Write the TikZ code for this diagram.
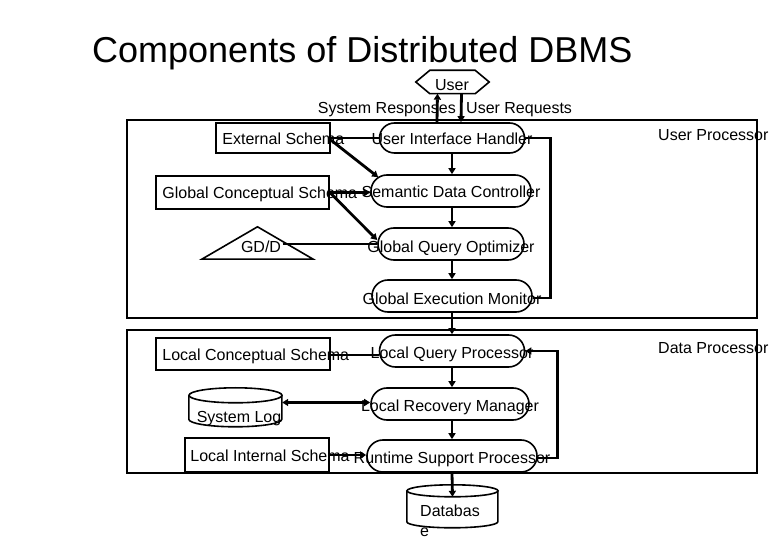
\documentclass[tikz,border=0pt]{standalone}
\usepackage{fontspec}
\setmainfont{Liberation Sans}
\usetikzlibrary{arrows.meta,calc}
\begin{document}
\begin{tikzpicture}[x=1pt,y=-1pt,
  lbl/.style={font=\fontsize{16}{19}\selectfont, inner sep=0pt, text height=11.5pt, text depth=0pt},
  proc/.style={draw, line width=1.6pt, rounded corners=15pt, inner sep=0pt},
  box/.style={draw, line width=1.6pt, inner sep=0pt},
  ghost/.style={inner sep=0pt},
  frame/.style={draw, line width=1.8pt, inner sep=0pt},
  outl/.style={line width=1.6pt},
  link/.style={line width=2.8pt},
  arr/.style={link, -{Triangle[length=6pt,width=7pt]}},
  darr/.style={link, {Triangle[length=6pt,width=7pt]}-{Triangle[length=6pt,width=7pt]}},
]
\useasboundingbox (0,0) rectangle (780,540);

% title
\node[font=\fontsize{36}{40}\selectfont, inner sep=0pt, anchor=base west] (title) at (92,63) {Components of Distributed DBMS};

% frames
\node[frame, anchor=north west, minimum width=630, minimum height=198] (upbox) at (126,119) {};
\node[frame, anchor=north west, minimum width=630, minimum height=143] (dnbox) at (126,329) {};
\node[lbl, anchor=west] (uptxt) at (658,135) {User Processor};
\node[lbl, anchor=west] (dntxt) at (658,348) {Data Processor};

% user hexagon
\node[ghost, minimum width=73, minimum height=23] (user) at (452.5,82) {};
\draw[outl] ([xshift=14pt]user.north west) -- ([xshift=-14pt]user.north east) -- (user.east)
  -- ([xshift=-14pt]user.south east) -- ([xshift=14pt]user.south west) -- (user.west) -- cycle;
\node[lbl] (usertxt) at (452,85) {User};
\node[lbl, anchor=east] (resp) at (456,108) {System Responses};
\node[lbl, anchor=west] (req) at (466,108) {User Requests};

% user processor shapes
\node[box, minimum width=114, minimum height=30] (es) at (273,138) {};
\node[lbl, anchor=west] (estxt) at ([xshift=7pt,yshift=-1pt]es.west) {External Schema};
\node[proc, minimum width=145, minimum height=30] (uih) at (452,138) {};
\node[lbl] (uihtxt) at ([yshift=-1pt]uih.center) {User Interface Handler};

\node[box, minimum width=173, minimum height=33] (gcs) at (242.5,192.5) {};
\node[lbl, anchor=west] (gcstxt) at ([xshift=7pt]gcs.west) {Global Conceptual Schema};
\node[proc, minimum width=160, minimum height=32, rounded corners=16pt] (sdc) at (451,191) {};
\node[lbl] (sdctxt) at ([yshift=-1pt]sdc.center) {Semantic Data Controller};

\node[ghost, minimum width=111, minimum height=32] (gdd) at (257.5,243) {};
\draw[outl] (gdd.south west) -- (gdd.north) -- (gdd.south east) -- cycle;
\node[lbl] (gddtxt) at (261,247) {GD/D};
\node[proc, minimum width=146, minimum height=32, rounded corners=16pt] (gqo) at (451,244) {};
\node[lbl] (gqotxt) at ([yshift=-3pt]gqo.center) {Global Query Optimizer};

\node[proc, minimum width=160, minimum height=32, rounded corners=16pt] (gem) at (452,296) {};
\node[lbl] (gemtxt) at ([yshift=-3pt]gem.center) {Global Execution Monitor};

% data processor shapes
\node[box, minimum width=174, minimum height=32] (lcs) at (243,354) {};
\node[lbl, anchor=west] (lcstxt) at ([xshift=7pt,yshift=-1pt]lcs.west) {Local Conceptual Schema};
\node[proc, minimum width=145, minimum height=32, rounded corners=16pt] (lqp) at (452,351) {};
\node[lbl] (lqptxt) at ([yshift=-2pt]lqp.center) {Local Query Processor};

\node[ghost, minimum width=93, minimum height=39] (sl) at (235.5,407.5) {};
\draw[outl] ([yshift=-7.5pt]sl.north) ellipse [x radius=46.5, y radius=7.5];
\draw[outl] (sl.north west) ++(0,7.5) -- ++(0,24) arc[start angle=180, end angle=0, x radius=46.5, y radius=7.5] -- ++(0,-24);
\node[lbl] (sltxt) at (239,417) {System Log};
\node[proc, minimum width=158, minimum height=32, rounded corners=16pt] (lrm) at (450,404) {};
\node[lbl] (lrmtxt) at ([yshift=-2pt]lrm.center) {Local Recovery Manager};

\node[box, minimum width=144, minimum height=34] (lis) at (257,455) {};
\node[lbl, anchor=west] (listxt) at ([xshift=6pt,yshift=-1pt]lis.west) {Local Internal Schema};
\node[proc, minimum width=170, minimum height=32, rounded corners=16pt] (rsp) at (452,456) {};
\node[lbl] (rsptxt) at ([yshift=-2pt]rsp.center) {Runtime Support Processor};

\node[ghost, minimum width=91, minimum height=43] (db) at (452.5,506.5) {};
\draw[outl] ([yshift=-6pt]db.north) ellipse [x radius=45.5, y radius=6];
\draw[outl] (db.north west) ++(0,6) -- ++(0,31) arc[start angle=180, end angle=0, x radius=45.5, y radius=6] -- ++(0,-31);
\node[font=\fontsize{16}{20}\selectfont, inner sep=0pt, align=left, anchor=north west] (dbtxt) at (420,505) {Databas\\e};

% connectors: user side
\draw[arr] ([xshift=-15pt]uih.north) -- ([xshift=-15pt]user.south);
\draw[arr] ([xshift=9pt]user.south) -- ([xshift=9pt]uih.north);
\draw[link] (es.east) -- (uih.west);
\draw[arr] ([yshift=-2pt]es.east) -- ([xshift=8pt,yshift=-3pt]sdc.north west);
\draw[arr] (gcs.east) -- (gcs.east -| sdc.west);
\draw[arr] (gcs.east) -- ([yshift=4pt]gqo.west);
\draw[link] ([xshift=25pt,yshift=-1pt]gdd.center) -- (gqo.west);
\draw[arr] (uih.south) -- (uih.south |- sdc.north);
\draw[arr] (uih.south |- sdc.south) -- (uih.south |- gqo.north);
\draw[arr] (uih.south |- gqo.south) -- (gem.north);
\draw[link] (uih.east) -- ++(25,0) |- ([yshift=-2pt]gem.east);
\draw[arr] (gem.south) -- (lqp.north);

% connectors: data side
\draw[link] ([yshift=-1pt]lcs.east) -- ([yshift=-1pt]lcs.east -| lqp.west);
\draw[darr] ([yshift=5pt]sl.east) -- ([yshift=5pt]sl.east -| lrm.west);
\draw[arr] (lis.east) -- (lis.east -| rsp.west);
\draw[arr] ([yshift=-2pt]rsp.east) -- ++(20,0) |- (lqp.east);
\draw[arr] (lqp.south) -- (lqp.south |- lrm.north);
\draw[arr] (lqp.south |- lrm.south) -- (rsp.north);
\draw[arr] (rsp.south) -- ([yshift=-12pt]db.north);
\end{tikzpicture}
\end{document}
